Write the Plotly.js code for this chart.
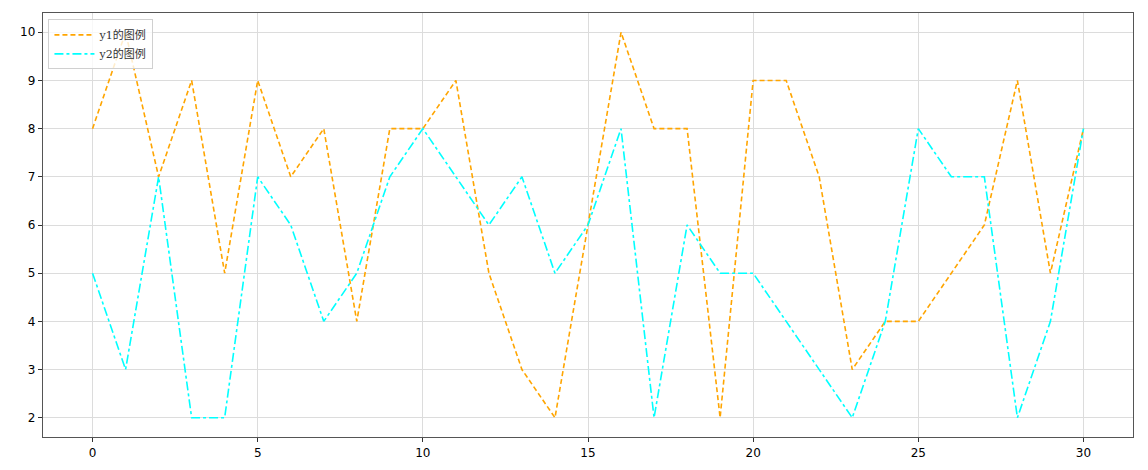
<!DOCTYPE html>
<html>
<head>
<meta charset="utf-8">
<script src="https://cdn.plot.ly/plotly-3.0.1.min.js"></script>
<style>html,body{margin:0;padding:0;background:#fff;}#chart{width:1148px;height:470px;}</style>
</head>
<body>
<div id="chart"></div>
<script>
const xs = [0,1,2,3,4,5,6,7,8,9,10,11,12,13,14,15,16,17,18,19,20,21,22,23,24,25,26,27,28,29,30];
const y1 = [8,10,7,9,5,9,7,8,4,8,8,9,5,3,2,6,10,8,8,2,9,9,7,3,4,4,5,6,9,5,8];
const y2 = [5,3,7,2,2,7,6,4,5,7,8,7,6,7,5,6,8,2,6,5,5,4,3,2,4,8,7,7,2,4,8];
const names = ['y1的图例', 'y2的图例'];

const traces = [
  {x: xs, y: y1, name: names[0], mode: 'lines', type: 'scatter',
   line: {color: '#FFA500', width: 1.6, dash: '5px,3px'}},
  {x: xs, y: y2, name: names[1], mode: 'lines', type: 'scatter',
   line: {color: '#00FFFF', width: 1.6, dash: 'dashdot'}}
];

const layout = {
  width: 1148, height: 470,
  margin: {l: 43, r: 15, t: 13, b: 33},
  paper_bgcolor: '#fff', plot_bgcolor: '#fff',
  font: {family: 'DejaVu Sans, sans-serif', size: 11, color: '#000'},
  showlegend: true,
  legend: {x: 0.005, y: 0.985, xanchor: 'left', yanchor: 'top',
    bgcolor: 'rgba(255,255,255,0.8)', bordercolor: '#d0d0d0', borderwidth: 1,
    itemwidth: 40,
    font: {family: 'DejaVu Serif, Noto Sans CJK SC, serif', size: 11, color: '#333'},
    tracegroupgap: 2},
  xaxis: {range: [-1.5, 31.5], tickvals: [0,5,10,15,20,25,30], ticks: 'outside', ticklen: 4,
    tickcolor: '#333', showgrid: true, gridcolor: '#dcdcdc', gridwidth: 1,
    showline: true, linecolor: '#555', linewidth: 1.2, mirror: true, zeroline: false,
    tickfont: {size: 12, color: '#000'}},
  yaxis: {range: [1.6, 10.4], tickvals: [2,3,4,5,6,7,8,9,10], ticks: 'outside', ticklen: 4,
    tickcolor: '#333', showgrid: true, gridcolor: '#dcdcdc', gridwidth: 1,
    showline: true, linecolor: '#555', linewidth: 1.2, mirror: true, zeroline: false,
    tickfont: {size: 12, color: '#000'}}
};

Plotly.newPlot('chart', traces, layout, {displayModeBar: false, staticPlot: true});
</script>
</body>
</html>
